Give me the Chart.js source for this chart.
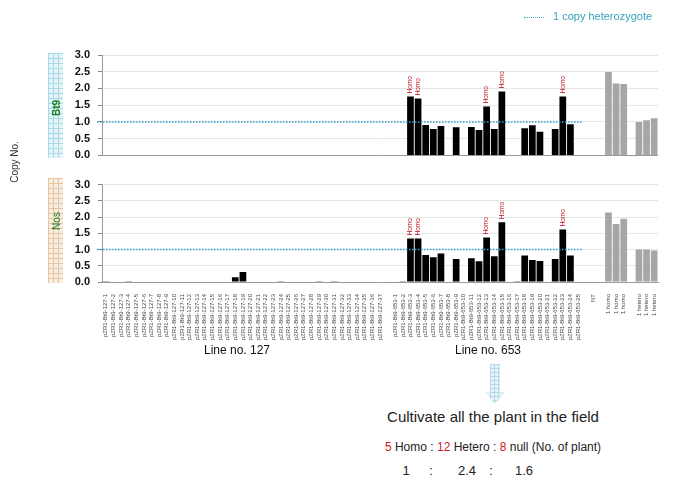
<!DOCTYPE html>
<html><head><meta charset="utf-8">
<script src="https://cdn.jsdelivr.net/npm/chart.js@4.4.1/dist/chart.umd.min.js"></script>
<style>
body{margin:0;width:700px;height:480px;position:relative;background:#fff;font-family:"Liberation Sans",Arial,sans-serif;overflow:hidden}
.abs{position:absolute}
canvas{position:absolute;left:0}
#c1{top:0}
#c2{top:170px}
.box{position:absolute;left:48px;width:15px;height:105px}
.bt9box{top:53px;background-color:#e4f5f9;background-image:linear-gradient(#a9d9e7 1px,transparent 1px),linear-gradient(90deg,#a9d9e7 1px,transparent 1px);background-size:5px 5px}
.nosbox{top:178px;background-color:#f8eddf;background-image:linear-gradient(#e2c6a6 1px,transparent 1px),linear-gradient(90deg,#e2c6a6 1px,transparent 1px);background-size:5px 5px}
.vt{position:absolute;transform:translate(-50%,-50%) rotate(-90deg);white-space:nowrap}
.ctr{position:absolute;transform:translateX(-50%);white-space:nowrap}
.red{color:#d0202a}
</style></head>
<body>
<canvas id="c1" width="700" height="170"></canvas>
<canvas id="c2" width="700" height="190"></canvas>

<div class="abs" style="left:524px;top:10px;font-size:11px;color:#35a3bb;white-space:nowrap">
<span style="display:inline-block;width:20px;border-top:1.5px dotted #4bacc6;vertical-align:middle;margin-right:9px"></span>1 copy heterozygote</div>

<div class="vt" style="left:14px;top:162px;font-size:10px;color:#333">Copy No.</div>
<div class="box bt9box"></div>
<div class="vt" style="left:56px;top:108px;font-size:10px;font-weight:bold;color:#1e7d1e">Bt9</div>
<div class="box nosbox"></div>
<div class="vt" style="left:56px;top:221px;font-size:10px;color:#1e7d1e">Nos</div>

<div class="ctr" style="left:237px;top:343px;font-size:12px;color:#111">Line no. 127</div>
<div class="ctr" style="left:488px;top:343px;font-size:12px;color:#111">Line no. 653</div>

<div class="abs" style="left:486px;top:364px;width:18px;height:40px;clip-path:polygon(22% 0,78% 0,78% 72%,100% 72%,50% 100%,0 72%,22% 72%);background-color:#e6f4fa;background-image:linear-gradient(#b5dbea 1px,transparent 1px),linear-gradient(90deg,#b5dbea 1px,transparent 1px);background-size:4px 4px"></div>

<div class="ctr" style="left:493px;top:408px;font-size:15px;color:#222">Cultivate all the plant in the field</div>
<div class="ctr" style="left:493px;top:440px;font-size:12px;color:#222"><span class="red">5</span> Homo : <span class="red">12</span> Hetero : <span class="red">8</span> null (No. of plant)</div>
<div class="ctr" style="left:406px;top:463px;font-size:13px;color:#222">1</div>
<div class="ctr" style="left:431px;top:463px;font-size:13px;color:#222">:</div>
<div class="ctr" style="left:467px;top:463px;font-size:13px;color:#222">2.4</div>
<div class="ctr" style="left:491px;top:463px;font-size:13px;color:#222">:</div>
<div class="ctr" style="left:524px;top:463px;font-size:13px;color:#222">1.6</div>

<script>
const categories = [
 'pZR1-Bt9-127-1','pZR1-Bt9-127-2','pZR1-Bt9-127-3','pZR1-Bt9-127-4','pZR1-Bt9-127-5','pZR1-Bt9-127-6','pZR1-Bt9-127-7','pZR1-Bt9-127-8','pZR1-Bt9-127-9','pZR1-Bt9-127-10',
 'pZR1-Bt9-127-11','pZR1-Bt9-127-12','pZR1-Bt9-127-13','pZR1-Bt9-127-14','pZR1-Bt9-127-15','pZR1-Bt9-127-16','pZR1-Bt9-127-17','pZR1-Bt9-127-18','pZR1-Bt9-127-19','pZR1-Bt9-127-20',
 'pZR1-Bt9-127-21','pZR1-Bt9-127-22','pZR1-Bt9-127-23','pZR1-Bt9-127-24','pZR1-Bt9-127-25','pZR1-Bt9-127-26','pZR1-Bt9-127-27','pZR1-Bt9-127-28','pZR1-Bt9-127-29','pZR1-Bt9-127-30',
 'pZR1-Bt9-127-31','pZR1-Bt9-127-32','pZR1-Bt9-127-33','pZR1-Bt9-127-34','pZR1-Bt9-127-35','pZR1-Bt9-127-36','pZR1-Bt9-127-37',
 '',
 'pZR1-Bt9-653-1','pZR1-Bt9-653-2','pZR1-Bt9-653-3','pZR1-Bt9-653-4','pZR1-Bt9-653-5','pZR1-Bt9-653-6','pZR1-Bt9-653-7','pZR1-Bt9-653-8','pZR1-Bt9-653-9','pZR1-Bt9-653-10',
 'pZR1-Bt9-653-11','pZR1-Bt9-653-12','pZR1-Bt9-653-13','pZR1-Bt9-653-14','pZR1-Bt9-653-15','pZR1-Bt9-653-16','pZR1-Bt9-653-17','pZR1-Bt9-653-18','pZR1-Bt9-653-19','pZR1-Bt9-653-20',
 'pZR1-Bt9-653-21','pZR1-Bt9-653-22','pZR1-Bt9-653-23','pZR1-Bt9-653-24','pZR1-Bt9-653-25',
 '', 'NT', '',
 '1 homo','1 homo','1 homo', '',
 '1 hetero','1 hetero','1 hetero'
];

const bt9Copy = [
 0,0,0,0,0,0,0,0,0,0,
 0,0,0,0,0,0,0,0,0,0,
 0,0,0.01,0,0,0,0,0,0,0,
 0,0,0.01,0,0,0,0,
 null,
 0,0,1.76,1.70,0.91,0.79,0.88,0,0.84,0,
 0.85,0.76,1.46,0.79,1.91,0,0,0.81,0.90,0.71,
 0,0.79,1.76,0.93,0,
 null,0.01,null,
 2.49,2.15,2.13,null,
 1.00,1.05,1.11
];

const nosCopy = [
 0.02,0,0,0.02,0,0,0,0,0,0,
 0,0,0,0,0,0,0,0.15,0.31,0,
 0,0,0,0.02,0,0,0,0,0.02,0,
 0.02,0,0,0,0,0,0,
 null,
 0,0.02,1.34,1.34,0.83,0.76,0.88,0,0.71,0,
 0.73,0.64,1.37,0.79,1.84,0,0.02,0.82,0.68,0.65,
 0,0.71,1.62,0.82,0,
 null,0,null,
 2.14,1.79,1.95,null,
 1.00,1.00,0.97
];

const homoSamples = ['pZR1-Bt9-653-3','pZR1-Bt9-653-4','pZR1-Bt9-653-13','pZR1-Bt9-653-15','pZR1-Bt9-653-23'];
const homoText = 'Homo';
const heteroRefValue = 1.0;
const lastSample = 'pZR1-Bt9-653-25';

const barColors = categories.map(c => c.startsWith('pZR1') ? '#000000' : (c === 'NT' ? '#cfcfcf' : '#a6a6a6'));

const homoPlugin = {
  id: 'homo',
  afterDatasetsDraw(chart) {
    const meta = chart.getDatasetMeta(0);
    const ctx = chart.ctx;
    ctx.save();
    ctx.fillStyle = '#c0101a';
    ctx.font = '6.5px "Liberation Sans", Arial, sans-serif';
    ctx.textAlign = 'left';
    ctx.textBaseline = 'middle';
    categories.forEach((c, i) => {
      if (!homoSamples.includes(c)) return;
      const el = meta.data[i];
      ctx.save();
      ctx.translate(el.x, el.y - 3);
      ctx.rotate(-Math.PI / 2);
      ctx.fillText(homoText, 0, 0);
      ctx.restore();
    });
    ctx.restore();
  }
};

const refLinePlugin = {
  id: 'refline',
  afterDatasetsDraw(chart) {
    const xs = chart.scales.x, ys = chart.scales.y, ctx = chart.ctx;
    const y = ys.getPixelForValue(heteroRefValue);
    const idx = categories.indexOf(lastSample);
    const half = (xs.getPixelForValue(1) - xs.getPixelForValue(0)) / 2;
    ctx.save();
    ctx.strokeStyle = '#2fa5cc';
    ctx.lineWidth = 1.5;
    ctx.setLineDash([1.5, 1.5]);
    ctx.beginPath();
    ctx.moveTo(chart.chartArea.left - 5, y);
    ctx.lineTo(xs.getPixelForValue(idx) + half, y);
    ctx.stroke();
    ctx.restore();
  }
};

function makeChart(id, values, showX) {
  return new Chart(document.getElementById(id), {
    type: 'bar',
    data: { labels: categories, datasets: [{ data: values, backgroundColor: barColors, categoryPercentage: 1, barPercentage: 0.88 }] },
    options: {
      responsive: false, animation: false,
      layout: { padding: showX ? { top: 10, right: 42, bottom: 0, left: 0 } : { top: 55, right: 42, bottom: 13, left: 0 } },
      plugins: { legend: { display: false }, tooltip: { enabled: false } },
      scales: {
        x: {
          display: showX,
          grid: { display: false },
          border: { display: true, color: '#999' },
          ticks: { autoSkip: false, minRotation: 90, maxRotation: 90, padding: 4, font: { size: 6, family: '"Liberation Sans", Arial, sans-serif' }, color: '#444' },
          afterFit: s => { s.height = showX ? 78 : 0; }
        },
        y: {
          min: 0, max: 3,
          afterFit: s => { s.width = 102; },
          ticks: { stepSize: 0.5, callback: v => v.toFixed(1), font: { size: 11, weight: 'bold', family: '"Liberation Sans", Arial, sans-serif' }, color: '#111', padding: 8 },
          grid: { color: c => (c.tick && c.tick.value === 0) ? '#9a9a9a' : '#e6e6e6', tickColor: '#888', tickLength: 4 },
          border: { color: '#999' }
        }
      }
    },
    plugins: [refLinePlugin, homoPlugin]
  });
}

makeChart('c1', bt9Copy, false);
makeChart('c2', nosCopy, true);
</script>
</body></html>
